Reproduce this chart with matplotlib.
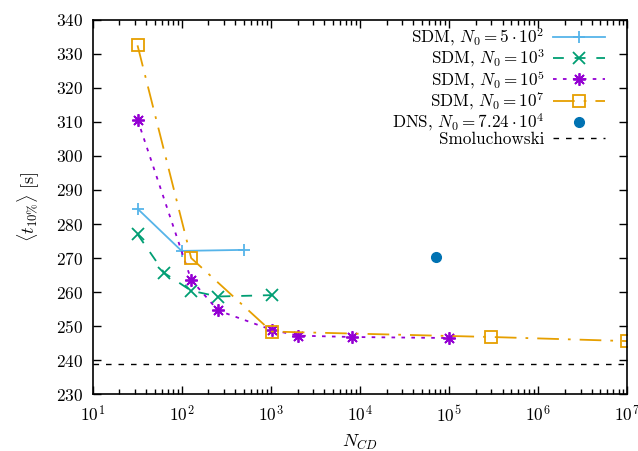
import matplotlib
matplotlib.use("Agg")
import matplotlib.pyplot as plt
from matplotlib.ticker import FuncFormatter, LogLocator, FixedLocator
import numpy as np

plt.rcParams['mathtext.fontset'] = 'cm'
plt.rcParams['font.family'] = ['cmr10', 'DejaVu Serif']
plt.rcParams['axes.formatter.use_mathtext'] = True

# Data
ncd_500 = [32, 100, 500]
t_500 = [284.5, 272.1, 272.4]

ncd_1e3 = [32, 64, 128, 256, 1024]
t_1e3 = [277.0, 265.6, 260.4, 258.7, 259.1]

ncd_1e5 = [32, 128, 256, 1024, 2048, 8192, 100000]
t_1e5 = [310.7, 263.6, 254.6, 248.9, 247.2, 246.8, 246.5]

ncd_1e7 = [32, 128, 1024, 300000, 10000000]
t_1e7 = [332.5, 270.0, 248.4, 246.8, 245.6]

dns_ncd = [72400]
dns_t = [270.2]

smol_t = 239.0
smol_x = [10, 1e7]

yticks = [230, 240, 250, 260, 270, 280, 290, 300, 310, 320, 330, 340]

fig = plt.figure(figsize=(6.38, 4.51), dpi=100)
ax = fig.add_axes([0.145, 0.126, 0.838, 0.830])

lw = 1.3
ax.plot(ncd_500, t_500, color='#56b4e9', lw=lw, marker='+', ms=9, mew=1.3,
        label=r'SDM, $N_0 = 5\cdot10^2$')
ax.plot(ncd_1e3, t_1e3, color='#009e73', lw=lw, marker='x', ms=8, mew=1.3,
        dashes=(6, 6), label=r'SDM, $N_0 = 10^3$')
ax.plot(ncd_1e5, t_1e5, color='#9400d3', lw=lw, marker=(8, 2, 0), ms=9, mew=1.3,
        dashes=(2, 3.5), label=r'SDM, $N_0 = 10^5$')
ax.plot(ncd_1e7, t_1e7, color='#e69f00', lw=lw, marker='s', ms=8, mew=1.3,
        mfc='none', dashes=(12, 5, 1.5, 5), label=r'SDM, $N_0 = 10^7$')
ax.plot(dns_ncd, dns_t, color='#0072b2', ls='none', marker='o', ms=7,
        label=r'DNS, $N_0 = 7.24\cdot10^4$')
ax.plot(smol_x, [smol_t, smol_t], color='black', lw=1.0, dashes=(4, 5),
        label='Smoluchowski')

ax.set_xscale('log')
ax.set_xlim(10, 1e7)
ax.set_ylim(230, 340)
ax.yaxis.set_major_locator(FixedLocator(yticks))
ax.yaxis.set_major_formatter(FuncFormatter(lambda v, p: r'$\mathrm{%d}$' % v))
ax.xaxis.set_major_locator(LogLocator(base=10, numticks=10))
ax.xaxis.set_minor_locator(LogLocator(base=10, subs=np.arange(2, 10), numticks=20))
ax.xaxis.set_minor_formatter(FuncFormatter(lambda v, p: ''))
ax.xaxis.set_major_formatter(FuncFormatter(lambda v, p: r'$10^{%d}$' % round(np.log10(v))))

ax.tick_params(which='both', direction='in', top=True, right=True, labelsize=12.5)
ax.tick_params(which='major', length=6, width=1.0)
ax.tick_params(which='minor', length=3.5, width=1.0)
ax.tick_params(axis='x', pad=7)
ax.tick_params(axis='y', pad=7)
for s in ax.spines.values():
    s.set_linewidth(1.2)

ax.set_xlabel(r'$N_{CD}$', fontsize=13, labelpad=6)
ax.set_ylabel(r'$\langle t_{10\%} \rangle\ \mathrm{[s]}$', fontsize=13, labelpad=10)

leg = ax.legend(loc='upper right', bbox_to_anchor=(0.959, 0.982), frameon=False,
                markerfirst=False, fontsize=12.3, handlelength=3.05,
                labelspacing=-0.06, borderaxespad=0.0, borderpad=0.0,
                handletextpad=0.5)
for t in leg.get_texts():
    t.set_ha('right')

fig.savefig('out.png', dpi=100)
